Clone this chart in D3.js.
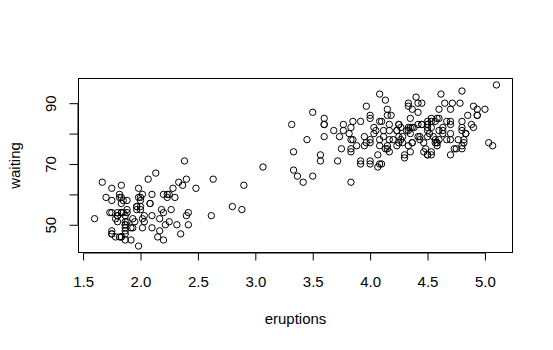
<!DOCTYPE html>
<html>
<head>
<meta charset="utf-8">
<script src="https://cdn.jsdelivr.net/npm/d3@7/dist/d3.min.js"></script>
<style>
  html, body { margin: 0; padding: 0; background: #fff; }
  svg { display: block; }
  text { font-family: "Liberation Sans", Arial, sans-serif; fill: #000; }
</style>
</head>
<body>
<svg id="chart" width="553" height="350"></svg>
<script>
// Old Faithful geyser: eruption duration (min) and waiting time (min)
const eruptions = [
  3.600,1.800,3.333,2.283,4.533,2.883,4.700,3.600,1.950,4.350,1.833,3.917,4.200,1.750,4.700,2.167,1.750,4.800,1.600,4.250,
  1.800,1.750,3.450,3.067,4.533,3.600,1.967,4.083,3.850,4.433,4.300,4.467,3.367,4.033,3.833,2.017,1.867,4.833,1.833,4.783,
  4.350,1.883,4.567,1.750,4.533,3.317,3.833,2.100,4.633,2.000,4.800,4.716,1.833,4.833,1.733,4.883,3.717,1.667,4.567,4.317,
  2.233,4.500,1.750,4.800,1.817,4.400,4.167,4.700,2.067,4.700,4.033,1.967,4.500,4.000,1.983,5.067,2.017,4.567,3.883,3.600,
  4.133,4.333,4.100,2.633,4.067,4.933,3.950,4.517,2.167,4.000,2.200,4.333,1.867,4.817,1.833,4.300,4.667,3.750,1.867,4.900,
  2.483,4.367,2.100,4.500,4.050,1.867,4.700,1.783,4.850,3.683,4.733,2.300,4.900,4.417,1.700,4.633,2.317,4.600,1.817,4.417,
  2.617,4.067,4.250,1.967,4.600,3.767,1.917,4.500,2.267,4.650,1.867,4.167,2.800,4.333,1.833,4.383,1.883,4.933,2.033,3.733,
  4.233,2.233,4.533,4.817,4.333,1.983,4.633,2.017,5.100,1.800,5.033,4.000,2.400,4.600,3.567,4.000,4.500,4.083,1.800,3.967,
  2.200,4.150,2.000,3.833,3.500,4.583,2.367,5.000,1.933,4.617,1.917,2.083,4.583,3.333,4.167,4.333,4.500,2.417,4.000,4.167,
  1.883,4.583,4.250,3.767,2.033,4.433,4.083,1.833,4.417,2.183,4.800,1.833,4.800,4.100,3.966,4.233,3.500,4.366,2.250,4.667,
  2.100,4.350,4.133,1.867,4.600,1.783,4.367,3.850,1.933,4.500,2.383,4.700,1.867,3.833,3.417,4.233,2.400,4.800,2.000,4.150,
  1.867,4.267,1.750,4.483,4.000,4.117,4.083,4.267,3.917,4.550,4.083,2.417,4.183,2.217,4.450,1.883,1.850,4.283,3.950,2.333,
  4.150,2.350,4.933,2.900,4.583,3.833,2.083,4.367,2.133,4.350,2.200,4.450,3.567,4.500,4.150,3.817,3.917,4.450,2.000,4.283,
  4.767,4.533,1.850,4.250,1.983,2.250,4.750,4.117,2.150,4.417,1.817,4.467
];
const waiting = [
  79,54,74,62,85,55,88,85,51,85,54,84,78,47,83,52,62,84,52,79,
  51,47,78,69,74,83,55,76,78,79,73,77,66,80,74,52,48,80,59,90,
  80,58,84,58,73,83,64,53,82,59,75,90,54,80,54,83,71,64,77,81,
  59,84,48,82,60,92,78,78,65,73,82,56,79,71,62,76,60,78,76,83,
  75,82,70,65,73,88,76,80,48,86,60,90,50,78,63,72,84,75,51,82,
  62,88,49,83,81,47,84,52,86,81,75,59,89,79,59,81,50,85,59,87,
  53,69,77,56,88,81,45,82,55,90,45,83,56,89,46,82,51,86,53,79,
  81,60,82,77,76,59,80,49,96,53,77,77,65,81,71,70,81,93,53,89,
  45,86,58,78,66,76,63,88,52,93,49,57,77,68,81,81,73,50,85,74,
  55,77,83,83,51,78,84,46,83,55,81,57,76,84,77,81,87,77,51,78,
  60,82,91,53,78,46,77,84,49,83,71,80,49,75,64,76,53,94,55,76,
  50,82,54,75,78,79,78,78,70,79,70,54,86,50,90,54,54,77,79,64,
  75,47,86,63,85,82,57,82,67,74,54,83,73,73,88,80,71,83,56,79,
  78,84,58,83,43,60,75,81,46,90,46,74
];
const xTicks = [1.5, 2.0, 2.5, 3.0, 3.5, 4.0, 4.5, 5.0];
const yTicks = [50, 60, 70, 80, 90];
const yTickLabels = ["50", "", "70", "", "90"];

const FONT = "Liberation Sans, Arial, sans-serif";
const FS = 15;

const svg = d3.select("#chart");
const box = { left: 78.5, right: 512.5, top: 78.5, bottom: 252.5 };

// pad each data range by 4% like a classic base-graphics plot
function padded(vals) {
  const [lo, hi] = d3.extent(vals);
  const e = (hi - lo) * 0.04;
  return [lo - e, hi + e];
}
const x = d3.scaleLinear().domain(padded(eruptions)).range([box.left, box.right]);
const y = d3.scaleLinear().domain(padded(waiting)).range([box.bottom, box.top]);

// frame
svg.append("rect")
  .attr("x", box.left).attr("y", box.top)
  .attr("width", box.right - box.left).attr("height", box.bottom - box.top)
  .attr("fill", "none").attr("stroke", "#000").attr("stroke-width", 1);

// x axis
const xAxis = svg.append("g")
  .attr("transform", `translate(0,${box.bottom})`)
  .call(d3.axisBottom(x).tickValues(xTicks).tickFormat(d3.format(".1f")).tickSize(8).tickSizeOuter(0));
xAxis.select(".domain").attr("d", `M${x(xTicks[0])},0.5H${x(xTicks[xTicks.length - 1])}`).attr("stroke", "#000");
xAxis.selectAll(".tick line").attr("stroke", "#000");
xAxis.selectAll(".tick text").attr("dy", null).attr("y", 34.5).attr("font-size", FS)
  .attr("font-family", FONT).attr("fill", "#000");

// y axis
const yAxis = svg.append("g")
  .attr("transform", `translate(${box.left},0)`)
  .call(d3.axisLeft(y).tickValues(yTicks).tickFormat((d, i) => yTickLabels[i]).tickSize(9).tickSizeOuter(0));
yAxis.select(".domain").attr("d", `M-0.5,${y(yTicks[0])}V${y(yTicks[yTicks.length - 1])}`).attr("stroke", "#000");
yAxis.selectAll(".tick line").attr("stroke", "#000");
yAxis.selectAll(".tick text")
  .attr("x", null).attr("dy", null)
  .attr("transform", "translate(-28.5,0) rotate(-90)")
  .attr("text-anchor", "middle").attr("dominant-baseline", "central")
  .attr("font-size", FS).attr("font-family", FONT).attr("fill", "#000");

// axis titles
svg.append("text")
  .attr("x", (box.left + box.right) / 2).attr("y", 324)
  .attr("text-anchor", "middle").attr("font-size", FS)
  .text("eruptions");
svg.append("text")
  .attr("transform", `translate(19.5,${(box.top + box.bottom) / 2}) rotate(-90)`)
  .attr("text-anchor", "middle").attr("font-size", FS)
  .text("waiting");

// points
svg.append("g")
  .selectAll("circle")
  .data(eruptions.map((e, i) => [e, waiting[i]]))
  .join("circle")
  .attr("cx", d => x(d[0]))
  .attr("cy", d => y(d[1]))
  .attr("r", 3.2)
  .attr("fill", "none")
  .attr("stroke", "#000")
  .attr("stroke-width", 1);
</script>
</body>
</html>
